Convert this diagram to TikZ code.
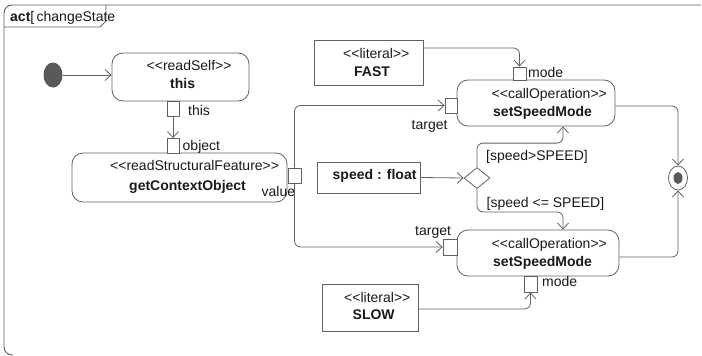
\documentclass[tikz,border=0pt]{standalone}
\usepackage{fontspec}
\setmainfont{Liberation Sans}
\usetikzlibrary{arrows.meta,shapes.geometric,calc}
% stereotype brackets (a kern keeps << from becoming a ligature)
\newcommand\stlo{<\kern0pt<}
\newcommand\sthi{>\kern0pt>}
\begin{document}
\begin{tikzpicture}[x=1pt,y=-1pt,
  lc/.style={draw=black!62},
  every node/.style={font=\fontsize{14}{16}\selectfont, text=black!90},
  action/.style={lc, line width=0.8pt, rectangle, rounded corners=11pt, inner sep=0pt},
  objbox/.style={lc, line width=0.8pt, rectangle, inner sep=0pt},
  pin/.style={lc, line width=0.8pt, rectangle, fill=white, inner sep=0pt},
  flow/.style={lc, line width=0.8pt, rounded corners=6pt, -{Straight Barb[length=6pt,width=11pt]}},
  txt/.style={inner sep=0pt, anchor=base west},
]
\useasboundingbox (0,0) rectangle (702,356);

% diagram frame (open on the right and bottom) and name tab
\draw[lc, line width=0.9pt, rounded corners=8pt] (13,355) -- (4,355) -- (4,5) -- (701,5);
\draw[lc, line width=0.8pt] (4,27) -- (100,27) -- (106,21) -- (106,5);
\node[txt] (title) at (10,21.5) {\textbf{act}[\,changeState};

% initial and final nodes
\node[ellipse, fill=black!65, minimum width=19pt, minimum height=25pt, inner sep=0pt] (init) at (53,75) {};
\node[ellipse, lc, line width=0.8pt, fill=white, minimum width=19pt, minimum height=24pt, inner sep=0pt] (final) at (678,178) {};
\node[ellipse, fill=black!65, minimum width=9pt, minimum height=12pt, inner sep=0pt] (finaldot) at (final.center) {};

% actions
\node[action, minimum width=137pt, minimum height=48pt] (self) at (180.5,77) {};
\node[action, minimum width=215pt, minimum height=49pt] (getco) at (179.5,177.5) {};
\node[action, minimum width=158pt, minimum height=46pt] (smA) at (536,103) {};
\node[action, minimum width=162pt, minimum height=46pt] (smB) at (538,253) {};

% value specifications and input object
\node[objbox, minimum width=109pt, minimum height=45pt] (fast) at (368.5,62.5) {};
\node[objbox, minimum width=96pt, minimum height=47pt] (slow) at (370,307.5) {};
\node[objbox, minimum width=103pt, minimum height=31pt] (speed) at (368.5,177.5) {};

% decision
\node[diamond, lc, line width=0.8pt, minimum width=26pt, minimum height=21pt, inner sep=0pt] (dec) at (477,178) {};

% texts of actions and objects
\node[txt] (selfS) at (146.5,70) {\stlo readSelf\sthi};
\node[txt] (selfN) at (170,88) {\textbf{this}};
\node[txt] (getcoS) at (110,170.5) {\stlo readStructuralFeature\sthi};
\node[txt] (getcoN) at (129,190) {\textbf{getContextObject}};
\node[txt] (smAS) at (491.5,98.5) {\stlo callOperation\sthi};
\node[txt] (smAN) at (493,116.5) {\textbf{setSpeedMode}};
\node[txt] (smBS) at (491.5,248.5) {\stlo callOperation\sthi};
\node[txt] (smBN) at (493,266.5) {\textbf{setSpeedMode}};
\node[txt] (fastS) at (343,58.5) {\stlo literal\sthi};
\node[txt] (fastN) at (354,76) {\textbf{FAST}};
\node[txt] (slowS) at (344,302.5) {\stlo literal\sthi};
\node[txt] (slowN) at (352.5,319.5) {\textbf{SLOW}};
\node[txt] (speedT) at (332.5,179.5) {\textbf{speed : float}};

% pins
\node[pin, minimum width=12pt, minimum height=15pt] (pthis) at (173,108.5) {};
\node[pin, minimum width=12pt, minimum height=15pt] (pobj) at (173,146) {};
\node[pin, minimum width=13pt, minimum height=15pt] (pval) at (294.5,175.5) {};
\node[pin, minimum width=12pt, minimum height=15pt] (ptgtA) at (451,105.5) {};
\node[pin, minimum width=13pt, minimum height=13pt] (pmodeA) at (519.5,73.5) {};
\node[pin, minimum width=14pt, minimum height=16pt] (ptgtB) at (450,247) {};
\node[pin, minimum width=13pt, minimum height=16pt] (pmodeB) at (530.5,284) {};

% pin labels
\node[txt] (lthis) at (188,115) {this};
\node[txt] (lobj) at (182.5,150) {object};
\node[txt] (lval) at (261.5,196) {value};
\node[txt] (ltgtA) at (411.5,129.5) {target};
\node[txt] (ltgtB) at (415,235) {target};
\node[txt] (lmodeA) at (528,77) {mode};
\node[txt] (lmodeB) at (542,286.5) {mode};

% guards
\node[txt] (ggt) at (486,160.5) {[speed>SPEED]};
\node[txt] (gle) at (486.5,207) {[speed <= SPEED]};

% flows
\draw[flow] (init) -- (init -| self.west);
\draw[flow] (pthis.south) -- (pobj.north);
\draw[flow] ([yshift=14.5pt]fast.east) -| (pmodeA.north);
\draw[flow] (pval.north) |- (ptgtA.west);
\draw[flow] (pval.south) |- (ptgtB.west);
\draw[flow] (speed.east) -- (dec.west);
\draw[flow] (dec.north) -- ++(0,-24) -| ([xshift=27pt]smA.south);
\draw[flow] (dec.south) -- ++(0,23) -| ([xshift=25pt]smB.north);
\draw[flow] ([yshift=-3pt]smA.east) -| (final.north);
\draw[flow] ([yshift=-4pt]smB.east) -| (final.south);
\draw[flow] ([yshift=-1.5pt]slow.east) -| (pmodeB.south);
\end{tikzpicture}
\end{document}
